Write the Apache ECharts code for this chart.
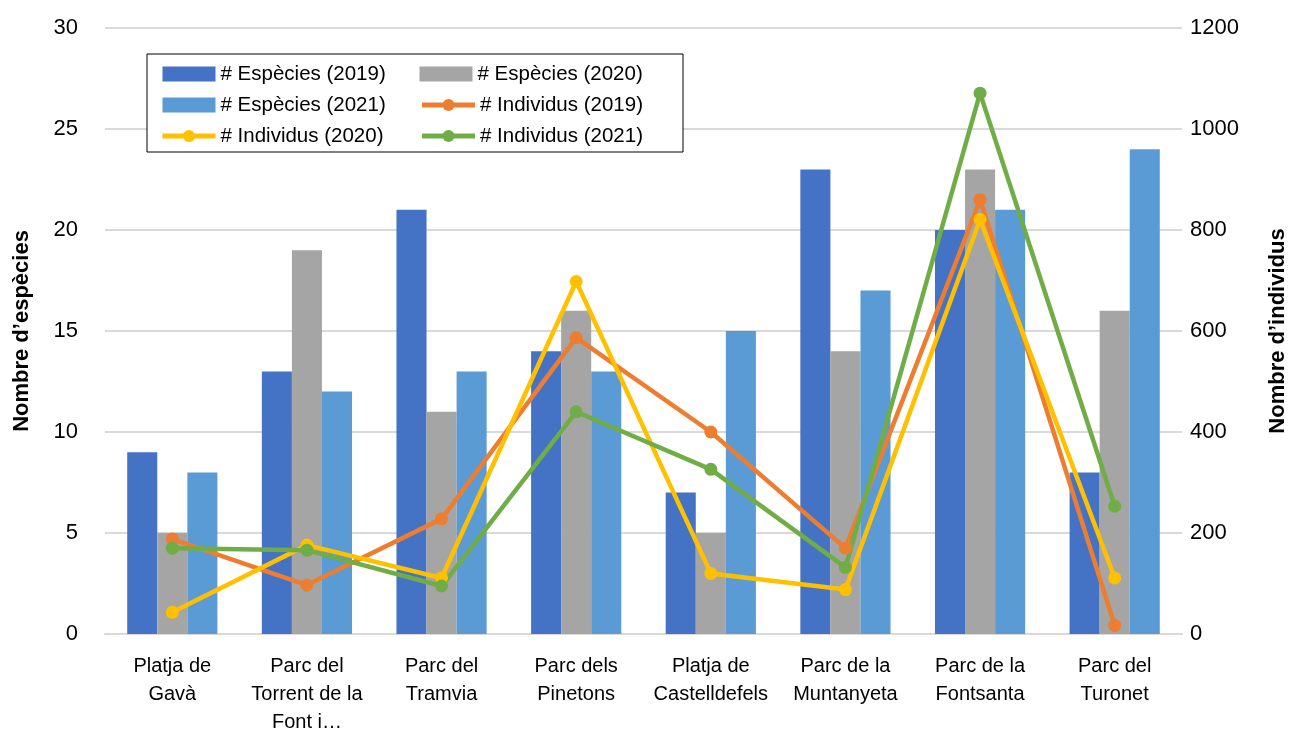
<!DOCTYPE html>
<html>
<head>
<meta charset="utf-8">
<script src="https://cdn.jsdelivr.net/npm/echarts@6/dist/echarts.min.js"></script>
<style>
  html, body { margin: 0; padding: 0; background: #fff; }
  #main { width: 1293px; height: 733px; }
</style>
</head>
<body>
<div id="main"></div>
<script>
const chart = echarts.init(document.getElementById('main'));

// Categories (labels with the line breaks seen on the picture)
const categories = [
  'Platja de\nGavà',
  'Parc del\nTorrent de la\nFont i…',
  'Parc del\nTramvia',
  'Parc dels\nPinetons',
  'Platja de\nCastelldefels',
  'Parc de la\nMuntanyeta',
  'Parc de la\nFontsanta',
  'Parc del\nTuronet'
];

// Species counts (left axis)
const especies2019 = [9, 13, 21, 14, 7, 23, 20, 8];
const especies2020 = [5, 19, 11, 16, 5, 14, 23, 16];
const especies2021 = [8, 12, 13, 13, 15, 17, 21, 24];

// Individuals counts (right axis)
const individus2019 = [188, 97, 228, 587, 400, 170, 860, 17];
const individus2020 = [43, 176, 111, 698, 120, 88, 821, 111];
const individus2021 = [170, 166, 95, 440, 326, 132, 1071, 253];

const fontFamily = '"Liberation Sans", Arial, sans-serif';

function barSeries(name, data, color) {
  return {
    name: name,
    type: 'bar',
    yAxisIndex: 0,
    data: data,
    barGap: '0%',
    barCategoryGap: '33%',
    itemStyle: { color: color }
  };
}

function lineSeries(name, data, color) {
  return {
    name: name,
    type: 'line',
    yAxisIndex: 1,
    data: data,
    symbol: 'circle',
    symbolSize: 13,
    z: 5,
    lineStyle: { color: color, width: 4.5 },
    itemStyle: { color: color }
  };
}

const options = {
  animation: false,
  textStyle: { fontFamily: fontFamily },
  grid: { left: 105, right: 111, top: 28, bottom: 99, outerBoundsMode: 'none' },
  legend: {
    left: 147,
    top: 54,
    width: 520,
    orient: 'horizontal',
    padding: [9, 13, 5, 13],
    itemGap: 9,
    itemWidth: 53,
    itemHeight: 15,
    borderColor: '#000',
    borderWidth: 1,
    borderRadius: 0,
    backgroundColor: '#fff',
    lineStyle: { width: 5 },
    textStyle: { fontSize: 20.5, color: '#000', width: 190, lineHeight: 22, fontFamily: fontFamily },
    data: [
      { name: '# Espècies (2019)', icon: 'rect' },
      { name: '# Espècies (2020)', icon: 'rect' },
      { name: '# Espècies (2021)', icon: 'rect' },
      { name: '# Individus (2019)' },
      { name: '# Individus (2020)' },
      { name: '# Individus (2021)' }
    ]
  },
  xAxis: {
    type: 'category',
    data: categories,
    axisLine: { lineStyle: { color: '#D9D9D9', width: 2 } },
    axisTick: { show: false },
    axisLabel: {
      color: '#000',
      fontSize: 20,
      lineHeight: 28,
      margin: 18,
      interval: 0,
      fontFamily: fontFamily
    }
  },
  yAxis: [
    {
      type: 'value',
      min: 0,
      max: 30,
      interval: 5,
      name: 'Nombre d’espècies',
      nameLocation: 'middle',
      nameGap: 72,
      nameTextStyle: { fontSize: 22, fontWeight: 'bold', color: '#000', fontFamily: fontFamily },
      axisLine: { show: false },
      axisTick: { show: false },
      axisLabel: { color: '#000', fontSize: 22, margin: 27, fontFamily: fontFamily },
      splitLine: { lineStyle: { color: '#D9D9D9', width: 2 } }
    },
    {
      type: 'value',
      min: 0,
      max: 1200,
      interval: 200,
      name: 'Nombre d’individus',
      nameLocation: 'middle',
      nameGap: 85,
      nameRotate: 90,
      nameTextStyle: { fontSize: 22, fontWeight: 'bold', color: '#000', fontFamily: fontFamily },
      axisLine: { show: false },
      axisTick: { show: false },
      axisLabel: {
        color: '#000',
        fontSize: 22,
        margin: 8,
        fontFamily: fontFamily,
        formatter: function (v) { return String(v); }
      },
      splitLine: { show: false }
    }
  ],
  series: [
    barSeries('# Espècies (2019)', especies2019, '#4472C4'),
    barSeries('# Espècies (2020)', especies2020, '#A5A5A5'),
    barSeries('# Espècies (2021)', especies2021, '#5B9BD5'),
    lineSeries('# Individus (2019)', individus2019, '#ED7D31'),
    lineSeries('# Individus (2020)', individus2020, '#FFC000'),
    lineSeries('# Individus (2021)', individus2021, '#70AD47')
  ]
};

chart.setOption(options);
</script>
</body>
</html>
